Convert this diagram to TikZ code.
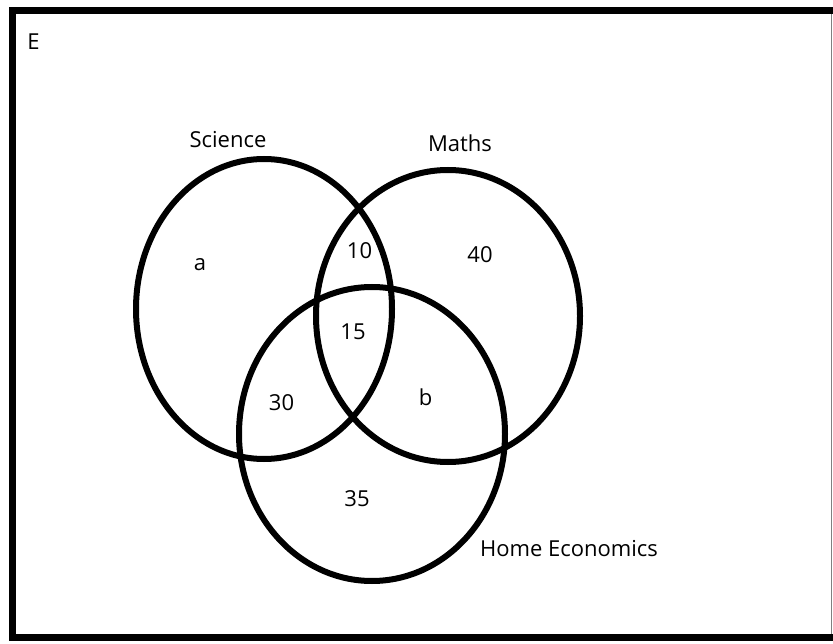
\documentclass[tikz,border=0pt]{standalone}
\usepackage{fontspec}
\setmainfont{Open Sans}
\tikzset{
  vring/.style={line width=6pt},
  lbl/.style={anchor=base, inner sep=0pt, font=\fontsize{22}{26}\selectfont}
}
\begin{document}
\begin{tikzpicture}[x=1pt, y=-1pt]
	\useasboundingbox (0,0) rectangle (833,644);
	\clip (0,0) rectangle (833,644);

	% Universal set frame
	\draw[line width=7pt] (12.5,10.5) rectangle (840,637.5);
	\draw[gray, line width=1pt] (831.5,14) -- (831.5,634);
	\node[lbl] (setE) at (33.5,50) {E};

	% The three sets
	\draw[vring] (264,309) ellipse [x radius=128pt, y radius=150pt];
	\draw[vring] (448,316) ellipse [x radius=132pt, y radius=146pt];
	\draw[vring] (372,434) ellipse [x radius=133pt, y radius=147pt];

	\node[lbl] (sci) at (228,148) {Science};
	\node[lbl] (mat) at (460,152) {Maths};
	\node[lbl] (home) at (569,556) {Home Economics};

	% Region values
	\foreach \x/\y/\val/\nm in {200/271/a/ra, 359.5/259/10/rsm, 480/263/40/rm,
	    353/340/15/rall, 281.5/410/30/rsh, 425.5/405/b/rmh, 357/506/35/rh} {
		\node[lbl] (\nm) at (\x,\y) {\val};
	}
\end{tikzpicture}
\end{document}
